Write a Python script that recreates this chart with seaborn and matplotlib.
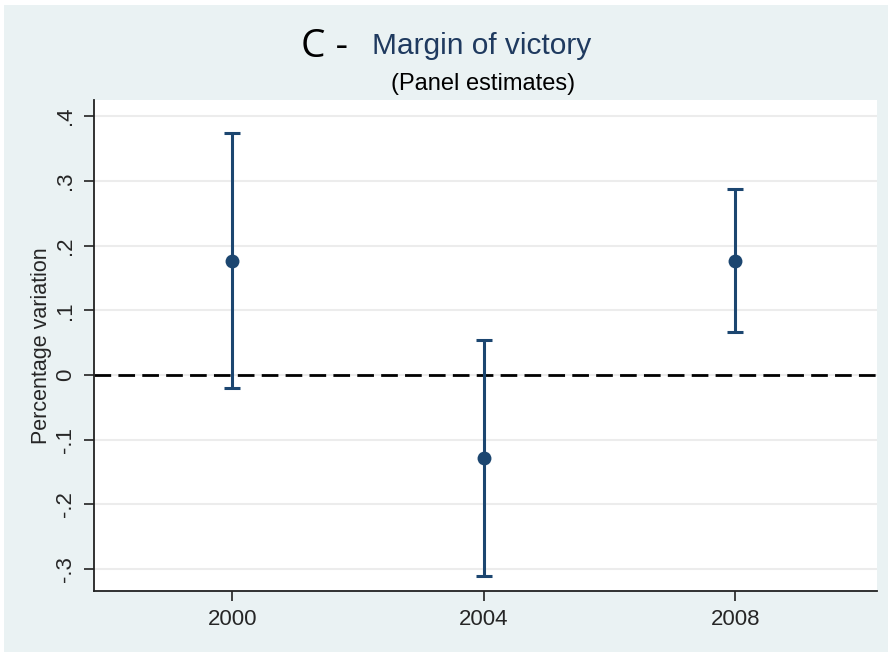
import matplotlib
matplotlib.use("Agg")
import matplotlib.pyplot as plt
import seaborn as sns
import pandas as pd
from matplotlib.patches import Rectangle

years = [2000, 2004, 2008]
estimates = [0.176, -0.128, 0.176]
ci_low = [-0.020, -0.311, 0.066]
ci_high = [0.374, 0.054, 0.287]
yticks = [-0.3, -0.2, -0.1, 0.0, 0.1, 0.2, 0.3, 0.4]
ytick_labels = ["-.3", "-.2", "-.1", "0", ".1", ".2", ".3", ".4"]

df = pd.DataFrame({"year": years, "est": estimates, "lo": ci_low, "hi": ci_high})

sns.set_style("white")
plt.rcParams["font.family"] = ["Liberation Sans", "DejaVu Sans"]

navy = "#1c4670"
bg = "#eaf2f3"

fig = plt.figure(figsize=(8.88, 6.52), dpi=100)
fig.patch.set_facecolor(bg)
# thin white margins at the top and left, as in the reference
fig.patches.append(Rectangle((0, 1 - 5 / 652), 1, 5 / 652, transform=fig.transFigure,
                             facecolor="white", edgecolor="none", zorder=-10))
fig.patches.append(Rectangle((0, 0), 4 / 888, 1, transform=fig.transFigure,
                             facecolor="white", edgecolor="none", zorder=-10))

ax = fig.add_axes([94 / 888, (652 - 591) / 652, (877 - 94) / 888, (591 - 100) / 652])
ax.set_facecolor("white")

ax.errorbar(df["year"], df["est"],
            yerr=[df["est"] - df["lo"], df["hi"] - df["est"]],
            fmt="none", ecolor=navy, elinewidth=2.2, capsize=6, capthick=2.2, zorder=3)
sns.scatterplot(data=df, x="year", y="est", ax=ax, color=navy, s=100,
                edgecolor=navy, linewidth=0, zorder=4, legend=False)

ax.axhline(0, color="black", linestyle=(0, (6, 2.6)), linewidth=2.0, zorder=2)

ax.set_xlim(1997.8, 2010.25)
ax.set_ylim(-0.334, 0.425)
ax.set_xticks(years)
ax.set_xticklabels([str(y) for y in years], fontsize=16)
ax.set_yticks(yticks)
ax.set_yticklabels(ytick_labels, fontsize=16, rotation=90, va="center")
ax.yaxis.grid(True, color="#ececec", linewidth=1.5)
ax.xaxis.grid(False)
ax.tick_params(axis="both", direction="out", length=7, width=1.2, color="#222222",
               left=True, bottom=True, pad=6)
for s in ["top", "right"]:
    ax.spines[s].set_visible(False)
for s in ["left", "bottom"]:
    ax.spines[s].set_color("#222222")
    ax.spines[s].set_linewidth(1.3)

ax.set_xlabel("")
ax.set_ylabel("Percentage variation", fontsize=15.5, labelpad=2)

fig.text(348 / 888, 1 - 47 / 652, "C -", fontsize=28, color="black", ha="right", va="center",
         family=["Open Sans", "DejaVu Sans"])
fig.text(372 / 888, 1 - 46 / 652, "Margin of victory", fontsize=21.5, color="#1f3a5f",
         ha="left", va="center")
fig.text(483 / 888, 1 - 84 / 652, "(Panel estimates)", fontsize=17, color="black",
         ha="center", va="center")

fig.savefig("out.png", dpi=100, facecolor=fig.get_facecolor())
